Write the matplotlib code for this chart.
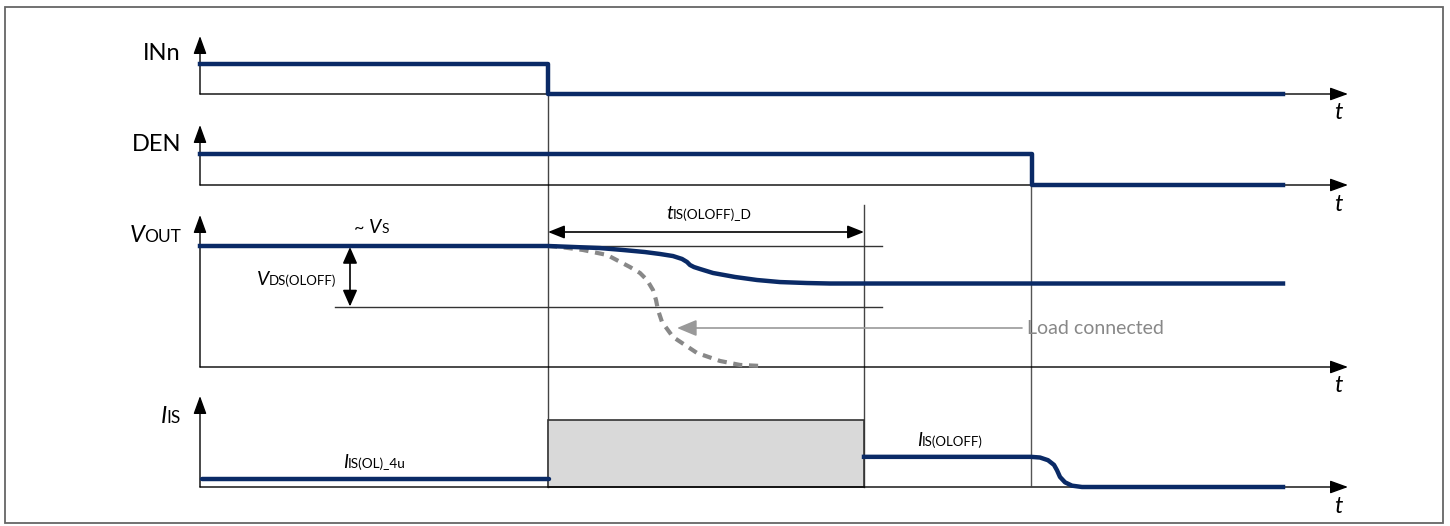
import matplotlib
matplotlib.use("Agg")
import matplotlib.pyplot as plt
from matplotlib.patches import Rectangle

plt.rcParams['font.family'] = ['Lato', 'DejaVu Sans']

# time instants (horizontal units of the drawing)
t_start = 200
t_in_off = 548          # INn goes low
t_oloff_d = 864         # end of t_IS(OLOFF)_D
t_den_off = 1032        # DEN goes low
t_sig_end = 1283
t_axis_end = 1348

# INn and DEN: logic levels
inn_t = [t_start, t_in_off, t_in_off, t_sig_end]
inn_v = [1, 1, 0, 0]
den_t = [t_start, t_den_off, t_den_off, t_sig_end]
den_v = [1, 1, 0, 0]

# VOUT as a fraction of VS, open load (solid) and load connected (dashed)
vout_t = [200, 548, 573, 600, 623, 645, 660, 673, 682, 687, 690, 694, 700, 713,
          735, 757, 780, 807, 830, 1283]
vout_v = [1.0, 1.0, 0.992, 0.983, 0.967, 0.950, 0.934, 0.917, 0.893, 0.868, 0.843,
          0.826, 0.810, 0.777, 0.744, 0.719, 0.702, 0.694, 0.690, 0.690]
vload_t = [548, 560, 583, 607, 630, 640, 647, 653, 656, 658, 662, 673, 697, 720, 740, 762]
vload_v = [1.0, 0.992, 0.967, 0.926, 0.826, 0.777, 0.719, 0.636, 0.554, 0.471, 0.372,
           0.248, 0.116, 0.050, 0.017, 0.008]
v_ds_oloff = 0.50   # VS - VDS(OLOFF)

# IS, as a fraction of the grey (undefined) band height
is_ol_t = [202, 549]
is_ol_v = [0.12, 0.12]
is_off_t = [864, 1031, 1040, 1048, 1054, 1057, 1060, 1065, 1072, 1082, 1283]
is_off_v = [0.45, 0.45, 0.44, 0.40, 0.33, 0.25, 0.15, 0.07, 0.02, 0.0, 0.0]

# channel rows: (baseline, height of level 1)
rows = {'INn': (94, 30), 'DEN': (185, 31), 'VOUT': (367, 121), 'IS': (487, 67)}


def ypos(ch, v):
    base, h = rows[ch]
    return [base - h * x for x in v] if isinstance(v, list) else base - h * v


navy = '#0a2a66'
fig = plt.figure(figsize=(14.5, 5.26), dpi=100)
ax = fig.add_axes([0, 0, 1, 1])
ax.set_xlim(0, 1450)
ax.set_ylim(526, 0)
ax.axis('off')

# frame
ax.add_patch(Rectangle((5, 7), 1438, 516, fill=False, ec='#666666', lw=1.3))


def arrow(p0, p1, style='-|>', hl=0.55, hw=0.2, color='black', lw=1.0):
    ax.annotate('', xy=p1, xytext=p0,
                arrowprops=dict(arrowstyle=f'{style},head_length={hl},head_width={hw}',
                                color=color, lw=lw, shrinkA=0, shrinkB=0,
                                mutation_scale=20))


# axes of every row
for ch in rows:
    base, h = rows[ch]
    top = {'INn': 36, 'DEN': 125, 'VOUT': 215, 'IS': 396}[ch]
    arrow((t_start, base), (t_start, top))
    arrow((t_start, base), (t_axis_end, base))

# grey undefined band for IS
ax.add_patch(Rectangle((t_in_off, ypos('IS', 0)), t_oloff_d - t_in_off,
                       -rows['IS'][1], fc='#d9d9d9', ec='#333333', lw=1.2, zorder=2))

# vertical markers
ax.plot([t_in_off, t_in_off], [63, 487], color='#444444', lw=1, zorder=1)
ax.plot([t_oloff_d, t_oloff_d], [205, 487], color='#444444', lw=1, zorder=1)
ax.plot([1031, 1031], [155, 485], color='#555555', lw=1, zorder=1)

# VOUT reference lines
ax.plot([t_in_off, 882], [ypos('VOUT', 1.0)] * 2, color='#333333', lw=1)
ax.plot([335, 882], [ypos('VOUT', v_ds_oloff)] * 2, color='#333333', lw=1)
arrow((350, ypos('VOUT', 1.0) + 1), (350, ypos('VOUT', v_ds_oloff)), style='<|-|>',
      hl=0.5, hw=0.22, lw=1.2)
arrow((t_in_off, 232), (t_oloff_d, 232), style='<|-|>', hl=0.5, hw=0.2, lw=1.2)

# signals
ax.plot(inn_t, ypos('INn', inn_v), color=navy, lw=3.2, zorder=4)
ax.plot(den_t, ypos('DEN', den_v), color=navy, lw=3.2, zorder=4)
ax.plot(vload_t, ypos('VOUT', vload_v), color='#888888', lw=3, ls=(0, (2.2, 1.6)), zorder=3)
ax.plot(vout_t, ypos('VOUT', vout_v), color=navy, lw=3.2, zorder=4)
ax.plot(is_ol_t, ypos('IS', is_ol_v), color=navy, lw=3.2, zorder=4, solid_capstyle='round')
ax.plot(is_off_t, ypos('IS', is_off_v), color=navy, lw=3.2, zorder=4)

# load connected pointer
arrow((1022, 328), (677, 328), color='#999999', lw=1.2, hl=0.6, hw=0.25)
ax.text(1027, 328, 'Load connected', fontsize=14, color='#888888', va='center')

renderer = fig.canvas.get_renderer()


def label(x, y, parts, ha='left'):
    objs = [ax.text(0, y, s, fontsize=fs, style=st, va='baseline', color='black')
            for s, fs, st in parts]
    widths = [o.get_window_extent(renderer).width for o in objs]
    pos = x - sum(widths) if ha == 'right' else x
    for o, w in zip(objs, widths):
        o.set_x(pos)
        pos += w


label(181, 60, [('INn', 17, 'normal')], ha='right')
label(181, 151, [('DEN', 17, 'normal')], ha='right')
label(181, 242, [('V', 17, 'italic'), ('OUT', 12.5, 'normal')], ha='right')
label(181, 423, [('I', 17, 'italic'), ('IS', 12.5, 'normal')], ha='right')
label(354, 233, [('~ ', 13, 'normal'), ('V', 14, 'italic'), ('S', 10, 'normal')])
label(257, 285, [('V', 14, 'italic'), ('DS(OLOFF)', 9.5, 'normal')])
label(666, 219, [('t', 14, 'italic'), ('IS(OLOFF)_D', 9.8, 'normal')])
label(343, 468, [('I', 13.5, 'italic'), ('IS(OL)_4u', 9.8, 'normal')])
label(917, 446, [('I', 13.5, 'italic'), ('IS(OLOFF)', 9.5, 'normal')])
for yb in [119, 211, 392, 513]:
    ax.text(1338, yb, 't', fontsize=17, style='italic', va='baseline', ha='center')

fig.savefig('out.png', dpi=100)
